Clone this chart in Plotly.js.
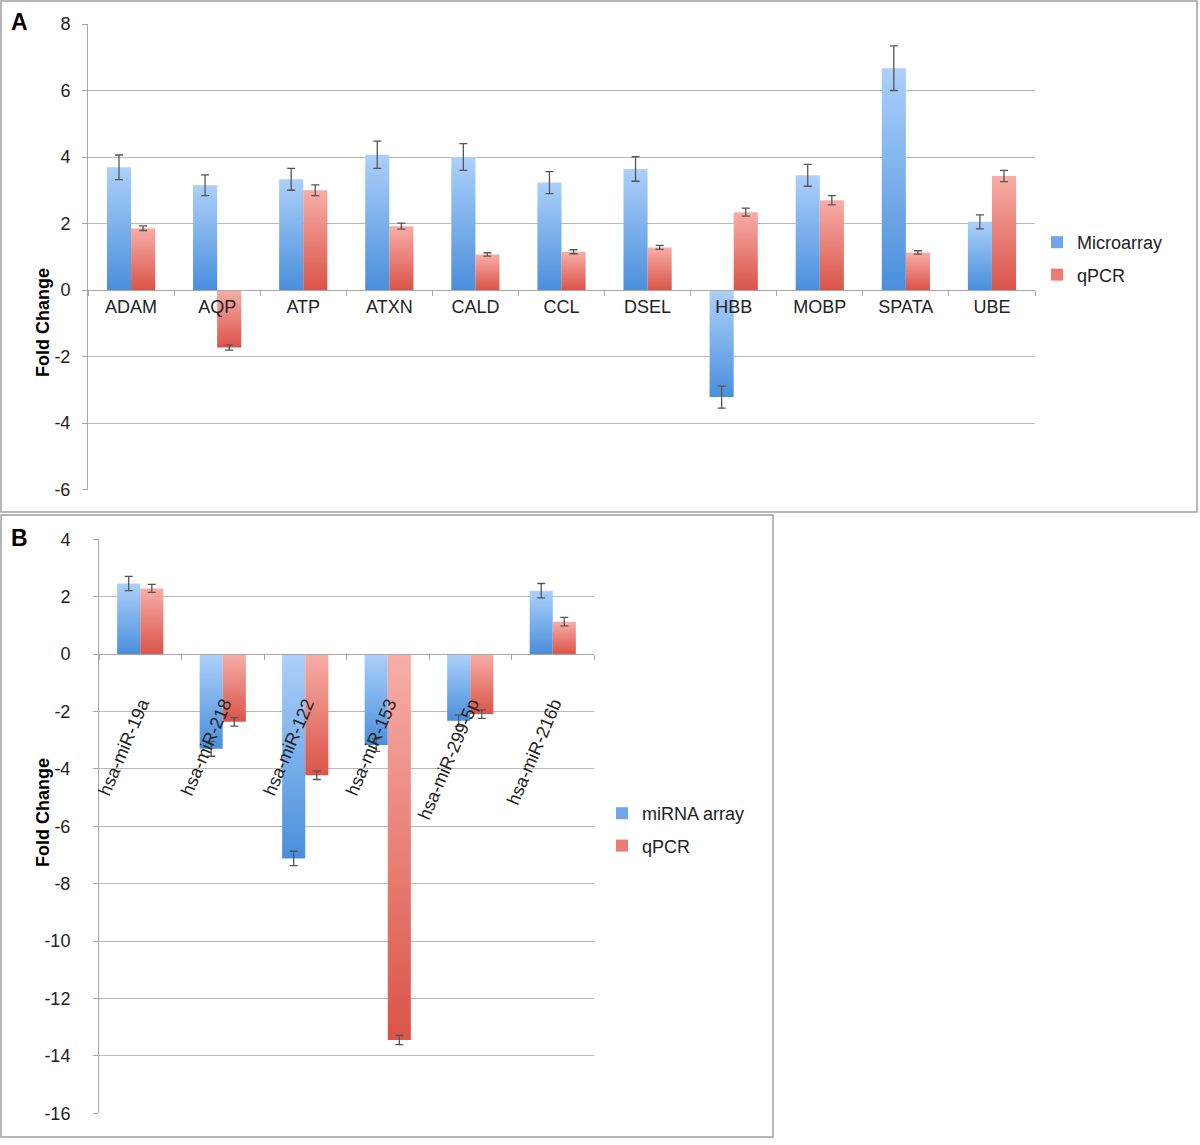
<!DOCTYPE html>
<html>
<head>
<meta charset="utf-8">
<script src="https://cdn.plot.ly/plotly-3.0.1.min.js"></script>
<style>
  html, body { margin: 0; padding: 0; background: #ffffff; }
  #chart { width: 1200px; height: 1145px; }
</style>
</head>
<body>
<div id="chart"></div>
<script>
// ---------- Panel A data ----------
const genes = ["ADAM", "AQP", "ATP", "ATXN", "CALD", "CCL", "DSEL", "HBB", "MOBP", "SPATA", "UBE"];
const microarray    = [3.69, 3.15, 3.33, 4.07, 4.00, 3.23, 3.64, -3.22, 3.45, 6.67, 2.05];
const microarrayErr = [0.37, 0.31, 0.33, 0.41, 0.40, 0.33, 0.37, 0.33, 0.33, 0.67, 0.21];
const qpcrA         = [1.86, -1.73, 3.00, 1.92, 1.07, 1.15, 1.28, 2.34, 2.70, 1.13, 3.43];
const qpcrAErr      = [0.07, 0.08, 0.16, 0.09, 0.05, 0.06, 0.06, 0.12, 0.14, 0.05, 0.17];
const yTicksA       = [-6, -4, -2, 0, 2, 4, 6, 8];

// ---------- Panel B data ----------
const mirnas = ["hsa-miR-19a", "hsa-miR-218", "hsa-miR-122", "hsa-miR-153", "hsa-miR-299-5p", "hsa-miR-216b"];
const mirnaArray    = [2.46, -3.30, -7.12, -3.17, -2.32, 2.21];
const mirnaArrayErr = [0.25, 0.26, 0.25, 0.22, 0.20, 0.25];
const qpcrB         = [2.29, -2.36, -4.22, -13.45, -2.09, 1.13];
const qpcrBErr      = [0.14, 0.15, 0.15, 0.16, 0.15, 0.15];
const yTicksB       = [-16, -14, -12, -10, -8, -6, -4, -2, 0, 2, 4];

// ---------- styling ----------
const W = 1200, H = 1145;
const FONT = "Liberation Sans, Arial, Helvetica, sans-serif";
const BLUE = "rgb(111, 166, 232)";
const RED  = "rgb(236, 123, 114)";
const GRID = "#b9b9b9";
const AXIS = "#a8a8a8";
const ERRC = "#555555";

const fx = px => px / W;
const fy = py => 1 - py / H;

const yRangeA = [-6, 8], yRangeB = [-16, 4];
const yDomA = [fy(489.5), fy(24)];
const yDomB = [fy(1113.3), fy(539.3)];
const zeroPos = (dom, r) => dom[0] + (0 - r[0]) / (r[1] - r[0]) * (dom[1] - dom[0]);

function errBar(arr) {
  return { type: "data", array: arr, visible: true, color: ERRC, thickness: 1.3, width: 4 };
}

const traces = [
  { type: "bar", name: "Microarray", x: genes, y: microarray, error_y: errBar(microarrayErr),
    marker: { color: BLUE }, xaxis: "x", yaxis: "y", legend: "legend", legendgroup: "a1" },
  { type: "bar", name: "qPCR", x: genes, y: qpcrA, error_y: errBar(qpcrAErr),
    marker: { color: RED }, xaxis: "x", yaxis: "y", legend: "legend", legendgroup: "a2" },
  { type: "bar", name: "miRNA array", x: mirnas, y: mirnaArray, error_y: errBar(mirnaArrayErr),
    marker: { color: BLUE }, xaxis: "x2", yaxis: "y2", legend: "legend2", legendgroup: "b1" },
  { type: "bar", name: "qPCR", x: mirnas, y: qpcrB, error_y: errBar(qpcrBErr),
    marker: { color: RED }, xaxis: "x2", yaxis: "y2", legend: "legend2", legendgroup: "b2" }
];

const yAxisCommon = {
  tickmode: "array", showgrid: true, gridcolor: GRID, gridwidth: 1, zeroline: false,
  showline: true, linecolor: AXIS, linewidth: 1, ticks: "outside", ticklen: 5, tickcolor: AXIS,
  tickfont: { family: FONT, size: 18, color: "#222" }, ticklabelstandoff: 8, fixedrange: true
};
const xAxisCommon = {
  type: "category", showgrid: false, zeroline: false, showline: true, linecolor: AXIS, linewidth: 1,
  ticks: "outside", ticklen: 5, tickcolor: AXIS, tickson: "boundaries", anchor: "free", fixedrange: true,
  tickfont: { family: FONT, size: 18, color: "#222" }
};

const legendCommon = {
  xanchor: "left", yanchor: "top", bgcolor: "rgba(0,0,0,0)", borderwidth: 0,
  tracegroupgap: 6, traceorder: "grouped", itemwidth: 30,
  font: { family: FONT, size: 18, color: "#222" }
};

const layout = {
  width: W, height: H,
  margin: { l: 0, r: 0, t: 0, b: 0, pad: 0 },
  paper_bgcolor: "#ffffff", plot_bgcolor: "rgba(0,0,0,0)",
  font: { family: FONT, color: "#222" },
  barmode: "group", bargap: 0.44, bargroupgap: 0,
  xaxis: Object.assign({}, xAxisCommon, {
    domain: [fx(88), fx(1035)], position: zeroPos(yDomA, yRangeA), tickangle: 0
  }),
  yaxis: Object.assign({}, yAxisCommon, {
    domain: yDomA, range: yRangeA, anchor: "x",
    tickvals: yTicksA, ticktext: yTicksA.map(String)
  }),
  xaxis2: Object.assign({}, xAxisCommon, {
    domain: [fx(99), fx(594)], position: zeroPos(yDomB, yRangeB), tickangle: -67,
    ticklabelstandoff: 31, ticklabelshift: 1
  }),
  yaxis2: Object.assign({}, yAxisCommon, {
    domain: yDomB, range: yRangeB, anchor: "x2", ticklabelstandoff: 19,
    tickvals: yTicksB, ticktext: yTicksB.map(String)
  }),
  showlegend: true,
  legend: Object.assign({}, legendCommon, { x: fx(1037), y: fy(224) }),
  legend2: Object.assign({}, legendCommon, { x: fx(602), y: fy(795) }),
  shapes: [
    { type: "rect", xref: "paper", yref: "paper", x0: fx(1), x1: fx(1197), y0: fy(512), y1: fy(1),
      line: { color: "#a0a0a0", width: 1.5 }, fillcolor: "rgba(0,0,0,0)", layer: "below" },
    { type: "rect", xref: "paper", yref: "paper", x0: fx(1), x1: fx(773), y0: fy(1137), y1: fy(515),
      line: { color: "#a0a0a0", width: 1.5 }, fillcolor: "rgba(0,0,0,0)", layer: "below" }
  ],
  annotations: [
    { text: "<b>A</b>", xref: "paper", yref: "paper", x: fx(19), y: fy(22), xanchor: "center", yanchor: "middle",
      showarrow: false, font: { family: FONT, size: 23, color: "#000" } },
    { text: "<b>B</b>", xref: "paper", yref: "paper", x: fx(19), y: fy(538), xanchor: "center", yanchor: "middle",
      showarrow: false, font: { family: FONT, size: 23, color: "#000" } },
    { text: "<b>Fold Change</b>", xref: "paper", yref: "paper", x: fx(43), y: fy(323), textangle: -90,
      xanchor: "center", yanchor: "middle", showarrow: false, font: { family: FONT, size: 18, color: "#000" } },
    { text: "<b>Fold Change</b>", xref: "paper", yref: "paper", x: fx(43), y: fy(813), textangle: -90,
      xanchor: "center", yanchor: "middle", showarrow: false, font: { family: FONT, size: 18, color: "#000" } }
  ]
};

const gd = document.getElementById("chart");

function ensureGradient(svg, id, top, bottom) {
  if (svg.querySelector("#" + id)) return;
  let defs = svg.querySelector("defs");
  const NS = "http://www.w3.org/2000/svg";
  if (!defs) { defs = document.createElementNS(NS, "defs"); svg.insertBefore(defs, svg.firstChild); }
  const g = document.createElementNS(NS, "linearGradient");
  g.setAttribute("id", id);
  g.setAttribute("x1", "0"); g.setAttribute("y1", "0"); g.setAttribute("x2", "0"); g.setAttribute("y2", "1");
  const s1 = document.createElementNS(NS, "stop");
  s1.setAttribute("offset", "0"); s1.setAttribute("stop-color", top);
  const s2 = document.createElementNS(NS, "stop");
  s2.setAttribute("offset", "1"); s2.setAttribute("stop-color", bottom);
  g.appendChild(s1); g.appendChild(s2); defs.appendChild(g);
}

function applyGradients() {
  const svg = gd.querySelector("svg.main-svg");
  if (!svg) return;
  ensureGradient(svg, "gradBlue", "#acd0fa", "#4a8fdc");
  ensureGradient(svg, "gradRed", "#f7aea7", "#da5449");
  gd.querySelectorAll("g.trace.bars").forEach(tr => {
    const cd = tr.__data__;
    let col = null;
    if (cd && cd[0] && cd[0].trace) col = cd[0].trace.marker.color;
    tr.querySelectorAll("g.point path").forEach(p => {
      const c = col || p.style.fill;
      if (c.replace(/\s/g, "") === BLUE.replace(/\s/g, "")) p.style.fill = "url(#gradBlue)";
      else if (c.replace(/\s/g, "") === RED.replace(/\s/g, "")) p.style.fill = "url(#gradRed)";
    });
  });
}

Plotly.newPlot(gd, traces, layout, { staticPlot: true, displayModeBar: false }).then(() => {
  applyGradients();
  gd.on && gd.on("plotly_afterplot", applyGradients);
});
</script>
</body>
</html>
